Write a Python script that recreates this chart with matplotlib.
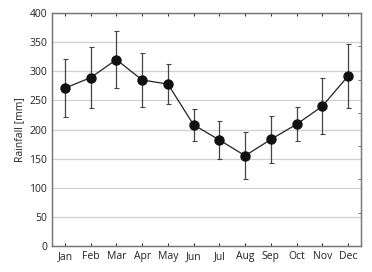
import matplotlib.pyplot as plt
import numpy as np

plt.rcParams['font.family'] = ['Open Sans', 'DejaVu Sans']

meses = ["Jan", "Feb", "Mar", "Apr", "May", "Jun", "Jul", "Aug", "Sep", "Oct", "Nov", "Dec"]
lluvia = [271, 289, 320, 285, 278, 208, 182, 155, 183, 209, 240, 292]
error = [50, 52, 49, 46, 35, 28, 33, 40, 40, 29, 48, 55]

x = np.arange(1, len(meses) + 1)

fig = plt.figure(figsize=(3.72, 2.72), dpi=100)
ax = fig.add_axes([52 / 372, 26 / 272, 309 / 372, 233 / 272])

ax.errorbar(x, lluvia, yerr=error, color="#222222", ecolor="#444444", elinewidth=0.9,
            capsize=1.8, capthick=0.8, lw=0.9, marker="o", markersize=6.5,
            markerfacecolor="#111111", markeredgecolor="#111111", zorder=3)

ax.set_xlim(0.5, 12.5)
ax.set_ylim(0, 400)
ax.set_yticks(range(0, 401, 50))
ax.set_xticks(x)
ax.set_xticklabels(meses)
ax.grid(axis="y", color="#d0d0d0", lw=0.9)
ax.set_axisbelow(True)
ax.set_ylabel("Rainfall [mm]", fontsize=7.5, color="#222222", labelpad=3)
ax.tick_params(axis="both", labelsize=7.5, colors="#222222", direction="in", length=2.5,
               top=True, width=0.7)
ax.tick_params(axis="y", length=0)

# eje derecho sin etiquetas
ax2 = ax.twinx()
ax2.set_ylim(0, 7)
ax2.set_yticks(range(8))
ax2.set_yticklabels([])
ax2.tick_params(axis="y", direction="in", length=2.5, width=0.7, colors="#777777")

for eje in (ax, ax2):
    for s in eje.spines.values():
        s.set_color("#777777")
        s.set_linewidth(0.9)

fig.savefig("out.png", dpi=100)
